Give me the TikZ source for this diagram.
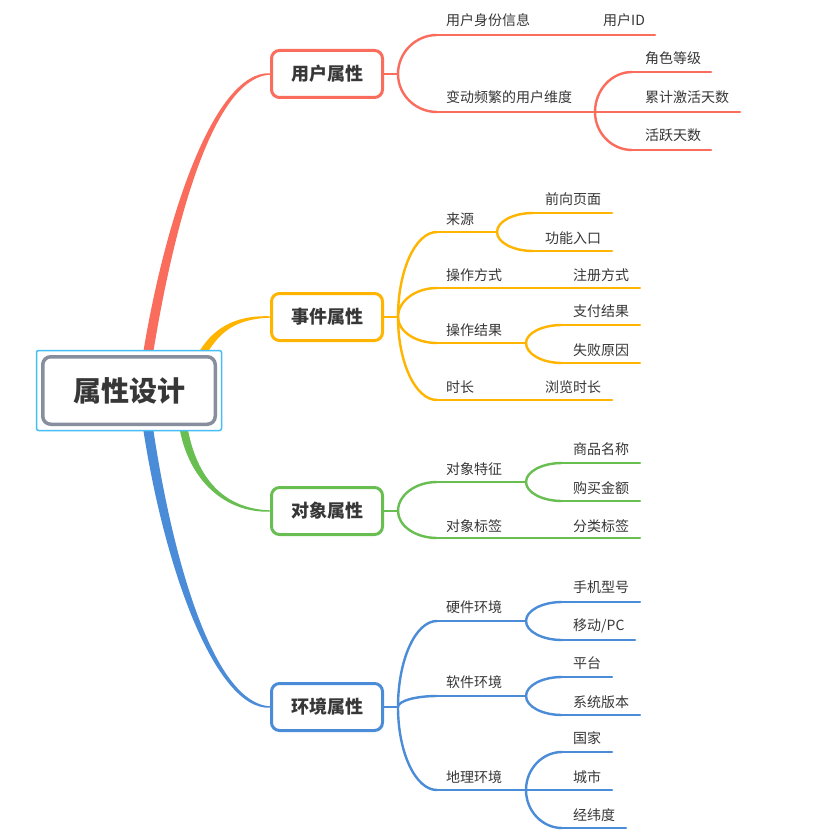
\documentclass[tikz,border=0pt]{standalone}
\usepackage{fontspec}
\setmainfont{Noto Sans CJK SC}
\usetikzlibrary{calc}
\definecolor{cred}{RGB}{250,108,92}
\definecolor{cyel}{RGB}{255,180,0}
\definecolor{cgrn}{RGB}{104,190,80}
\definecolor{cblu}{RGB}{74,140,215}
\definecolor{cgray}{RGB}{135,143,158}
\definecolor{ccyan}{RGB}{70,190,245}
\definecolor{ctext}{RGB}{55,55,55}
\newcommand\conn[3]{\draw[#1] let \p1=(#2), \p2=(#3) in (\p1) .. controls (\x1, {\y1+0.55*(\y2-\y1)}) and ({\x2-0.55*(\x2-\x1)}, \y2) .. (\p2);}
\tikzset{
  mainbox/.style={draw, line width=3pt, rounded corners=8pt, minimum width=111pt, minimum height=47pt, fill=white, font=\fontsize{18}{20}\selectfont\bfseries, text=ctext},
  lbl/.style={anchor=west, inner sep=0pt, font=\fontsize{14}{16}\selectfont, text=ctext},
  ln/.style={line width=2.4pt, line cap=round},
}
\begin{document}
\begin{tikzpicture}[x=1pt,y=-1pt]
\fill[white] (0,0) rectangle (828,834);
\useasboundingbox (0,0) rectangle (828,834);
% trunks
\fill[cred] (142,360) .. controls (165,215) and (215,70.5) .. (270,73.3) -- (270,74.7) .. controls (215,77.5) and (175,215) .. (152,360) -- cycle;
\fill[cblu] (142,421) .. controls (163,566) and (215,710.5) .. (270,707.7) -- (270,706.3) .. controls (215,703.5) and (173,566) .. (152,421) -- cycle;
\fill[cyel] (196.6,356.2) .. controls (211.6,328.2) and (235,315) .. (270,316.3) -- (270,317.7) .. controls (235,319) and (218.4,331.8) .. (203.4,359.8) -- cycle;
\fill[cgrn] (179,425.5) .. controls (188,480.5) and (225,513) .. (270,511.7) -- (270,510.3) .. controls (225,509) and (196,479.5) .. (187,424.5) -- cycle;
% central
\node[draw=ccyan, fill=white, line width=1.5pt, rounded corners=2pt, minimum width=185pt, minimum height=80pt, inner sep=0pt] (cbox) at (129,390.5) {};
\node[draw=cgray, fill=white, line width=3.5pt, rounded corners=8pt, minimum width=172.5pt, minimum height=67.5pt, font=\fontsize{28}{32}\selectfont\bfseries, text=ctext] (c) at (129,390.5) {属性设计};

% ===== red =====
\node[mainbox, draw=cred] (u) at (327,74) {用户属性};
\coordinate (ju) at (398,74);
\draw[ln,cred] (u.east) -- (ju);
\node[lbl] (u1) at (446,20) {用户身份信息};
\node[lbl] (u1a) at (603,20) {用户ID};
\coordinate (u1s) at (437,35); \coordinate (u1e) at (655,35);
\conn{ln,cred}{ju}{u1s}
\draw[ln,cred] (u1s) -- (u1e);
\node[lbl] (u2) at (446,97) {变动频繁的用户维度};
\coordinate (u2s) at (437,112); \coordinate (ju2) at (595,112);
\conn{ln,cred}{ju}{u2s}
\draw[ln,cred] (u2s) -- (ju2);
\node[lbl] (u2a) at (645,58) {角色等级};
\node[lbl] (u2b) at (645,97) {累计激活天数};
\node[lbl] (u2c) at (645,135) {活跃天数};
\coordinate (u2as) at (632,72); \coordinate (u2ae) at (711,72);
\coordinate (u2be) at (740,112);
\coordinate (u2cs) at (632,150); \coordinate (u2ce) at (711,150);
\conn{ln,cred}{ju2}{u2as}
\draw[ln,cred] (u2as) -- (u2ae);
\draw[ln,cred] (ju2) -- (u2be);
\conn{ln,cred}{ju2}{u2cs}
\draw[ln,cred] (u2cs) -- (u2ce);

% ===== yellow =====
\node[mainbox, draw=cyel] (e) at (327,317) {事件属性};
\coordinate (je) at (398,317);
\draw[ln,cyel] (e.east) -- (je);
\node[lbl] (e1) at (446,219) {来源};
\coordinate (e1s) at (437,232); \coordinate (je1) at (497,232);
\conn{ln,cyel}{je}{e1s}
\draw[ln,cyel] (e1s) -- (je1);
\node[lbl] (e1a) at (545,199) {前向页面};
\node[lbl] (e1b) at (545,238) {功能入口};
\coordinate (e1as) at (533,213); \coordinate (e1ae) at (612,213);
\coordinate (e1bs) at (533,251); \coordinate (e1be) at (612,251);
\conn{ln,cyel}{je1}{e1as}
\draw[ln,cyel] (e1as) -- (e1ae);
\conn{ln,cyel}{je1}{e1bs}
\draw[ln,cyel] (e1bs) -- (e1be);
\node[lbl] (e2) at (446,275) {操作方式};
\node[lbl] (e2a) at (573,275) {注册方式};
\coordinate (e2s) at (437,288); \coordinate (e2e) at (640,288);
\conn{ln,cyel}{je}{e2s}
\draw[ln,cyel] (e2s) -- (e2e);
\node[lbl] (e3) at (446,330) {操作结果};
\coordinate (e3s) at (437,343); \coordinate (je3) at (526,343);
\conn{ln,cyel}{je}{e3s}
\draw[ln,cyel] (e3s) -- (je3);
\node[lbl] (e3a) at (573,311) {支付结果};
\node[lbl] (e3b) at (573,350) {失败原因};
\coordinate (e3as) at (562,325); \coordinate (e3ae) at (640,325);
\coordinate (e3bs) at (562,363); \coordinate (e3be) at (640,363);
\conn{ln,cyel}{je3}{e3as}
\draw[ln,cyel] (e3as) -- (e3ae);
\conn{ln,cyel}{je3}{e3bs}
\draw[ln,cyel] (e3bs) -- (e3be);
\node[lbl] (e4) at (446,387) {时长};
\node[lbl] (e4a) at (545,387) {浏览时长};
\coordinate (e4s) at (437,400); \coordinate (e4e) at (612,400);
\conn{ln,cyel}{je}{e4s}
\draw[ln,cyel] (e4s) -- (e4e);

% ===== green =====
\node[mainbox, draw=cgrn] (o) at (327,511) {对象属性};
\coordinate (jo) at (398,511);
\draw[ln,cgrn] (o.east) -- (jo);
\node[lbl] (o1) at (446,469) {对象特征};
\coordinate (o1s) at (437,482); \coordinate (jo1) at (526,482);
\conn{ln,cgrn}{jo}{o1s}
\draw[ln,cgrn] (o1s) -- (jo1);
\node[lbl] (o1a) at (573,449) {商品名称};
\node[lbl] (o1b) at (573,488) {购买金额};
\coordinate (o1as) at (562,463); \coordinate (o1ae) at (640,463);
\coordinate (o1bs) at (562,501); \coordinate (o1be) at (640,501);
\conn{ln,cgrn}{jo1}{o1as}
\draw[ln,cgrn] (o1as) -- (o1ae);
\conn{ln,cgrn}{jo1}{o1bs}
\draw[ln,cgrn] (o1bs) -- (o1be);
\node[lbl] (o2) at (446,526) {对象标签};
\node[lbl] (o2a) at (573,526) {分类标签};
\coordinate (o2s) at (437,538); \coordinate (o2e) at (640,538);
\conn{ln,cgrn}{jo}{o2s}
\draw[ln,cgrn] (o2s) -- (o2e);

% ===== blue =====
\node[mainbox, draw=cblu] (h) at (327,707) {环境属性};
\coordinate (jh) at (398,707);
\draw[ln,cblu] (h.east) -- (jh);
\node[lbl] (h1) at (446,607) {硬件环境};
\coordinate (h1s) at (437,621); \coordinate (jh1) at (526,621);
\conn{ln,cblu}{jh}{h1s}
\draw[ln,cblu] (h1s) -- (jh1);
\node[lbl] (h1a) at (573,587) {手机型号};
\node[lbl] (h1b) at (573,626) {移动/PC};
\coordinate (h1as) at (562,602); \coordinate (h1ae) at (640,602);
\coordinate (h1bs) at (562,640); \coordinate (h1be) at (635,640);
\conn{ln,cblu}{jh1}{h1as}
\draw[ln,cblu] (h1as) -- (h1ae);
\conn{ln,cblu}{jh1}{h1bs}
\draw[ln,cblu] (h1bs) -- (h1be);
\node[lbl] (h2) at (446,682) {软件环境};
\coordinate (h2s) at (437,696); \coordinate (jh2) at (526,696);
\conn{ln,cblu}{jh}{h2s}
\draw[ln,cblu] (h2s) -- (jh2);
\node[lbl] (h2a) at (573,663) {平台};
\node[lbl] (h2b) at (573,702) {系统版本};
\coordinate (h2as) at (562,677); \coordinate (h2ae) at (612,677);
\coordinate (h2bs) at (562,715); \coordinate (h2be) at (640,715);
\conn{ln,cblu}{jh2}{h2as}
\draw[ln,cblu] (h2as) -- (h2ae);
\conn{ln,cblu}{jh2}{h2bs}
\draw[ln,cblu] (h2bs) -- (h2be);
\node[lbl] (h3) at (446,777) {地理环境};
\coordinate (h3s) at (437,790); \coordinate (jh3) at (526,790);
\conn{ln,cblu}{jh}{h3s}
\draw[ln,cblu] (h3s) -- (jh3);
\node[lbl] (h3a) at (573,738) {国家};
\node[lbl] (h3b) at (573,777) {城市};
\node[lbl] (h3c) at (573,815) {经纬度};
\coordinate (h3as) at (562,752); \coordinate (h3ae) at (612,752);
\coordinate (h3be) at (612,790);
\coordinate (h3cs) at (562,828); \coordinate (h3ce) at (626,828);
\conn{ln,cblu}{jh3}{h3as}
\draw[ln,cblu] (h3as) -- (h3ae);
\draw[ln,cblu] (jh3) -- (h3be);
\conn{ln,cblu}{jh3}{h3cs}
\draw[ln,cblu] (h3cs) -- (h3ce);
\end{tikzpicture}
\end{document}
